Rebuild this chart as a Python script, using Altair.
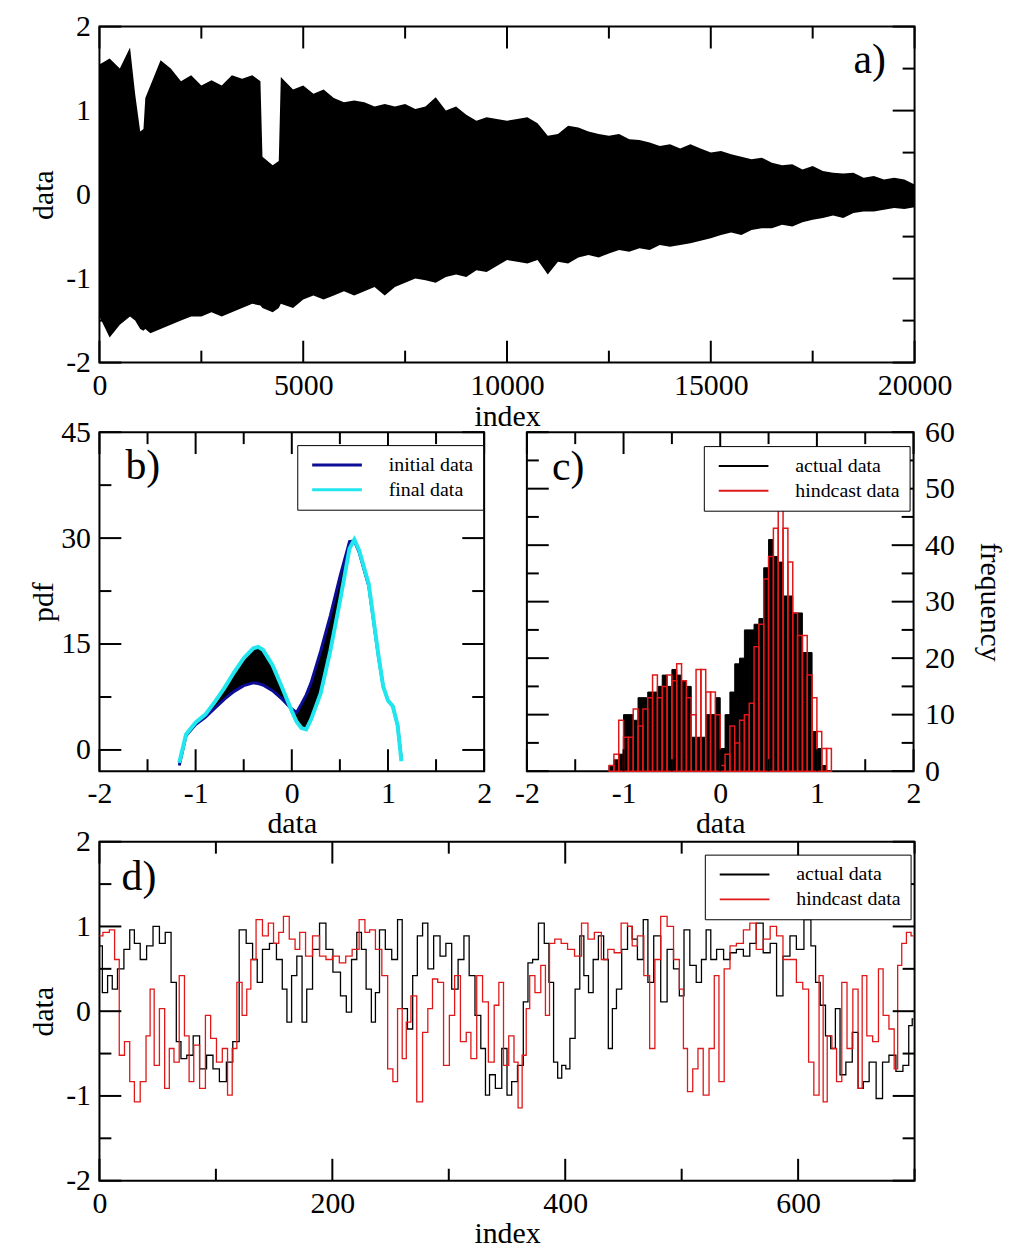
import altair as alt
import pandas as pd

FONT = "Liberation Serif"
BLUE = "#0c0c96"
CYAN = "#22e6ee"
RED = "#e01818"

# ---------------- panel a: envelope of the long series ----------------
a_index = [0, 250, 500, 750, 875, 1000, 1080, 1125, 1250, 1500, 1750, 2000, 2250, 2500, 2750,
           3000, 3250, 3500, 3750, 3950, 4000, 4250, 4400, 4450, 4750, 5000, 5250, 5500, 5750,
           6000, 6250, 6500, 6750, 7000, 7250, 7500, 7750, 8000, 8250, 8500, 8750, 9000, 9250,
           9500, 9750, 10000, 10250, 10500, 10750, 11000, 11250, 11500, 11750, 12000, 12250,
           12500, 12750, 13000, 13250, 13500, 13750, 14000, 14250, 14500, 14750, 15000, 15250,
           15500, 15750, 16000, 16250, 16500, 16750, 17000, 17250, 17500, 17750, 18000, 18250,
           18500, 18750, 19000, 19250, 19500, 19750, 20000]
a_upper = [1.55, 1.62, 1.5, 1.75, 1.2, 0.75, 0.78, 1.15, 1.3, 1.6, 1.5, 1.35, 1.42, 1.3, 1.36,
           1.3, 1.42, 1.38, 1.42, 1.35, 0.45, 0.35, 0.4, 1.4, 1.25, 1.3, 1.2, 1.25, 1.15,
           1.1, 1.12, 1.1, 1.05, 1.08, 1.05, 1.08, 1.02, 1.05, 1.16, 1.0, 1.05, 0.95, 0.88,
           0.92, 0.9, 0.88, 0.9, 0.92, 0.85, 0.7, 0.72, 0.82, 0.8, 0.75, 0.72,
           0.7, 0.72, 0.66, 0.65, 0.62, 0.58, 0.6, 0.55, 0.6, 0.55, 0.5, 0.52,
           0.48, 0.45, 0.42, 0.44, 0.38, 0.35, 0.36, 0.3, 0.34, 0.28, 0.26, 0.25,
           0.26, 0.2, 0.22, 0.18, 0.2, 0.18, 0.12]
a_lower = [-1.45, -1.7, -1.55, -1.45, -1.5, -1.6, -1.62, -1.6, -1.65, -1.6, -1.55, -1.5, -1.45, -1.45, -1.4,
           -1.45, -1.4, -1.35, -1.3, -1.32, -1.35, -1.4, -1.35, -1.3, -1.35, -1.25, -1.2, -1.25, -1.2,
           -1.15, -1.2, -1.15, -1.1, -1.2, -1.1, -1.05, -1.0, -1.02, -1.05, -0.98, -0.95, -0.98, -0.9,
           -0.92, -0.85, -0.78, -0.8, -0.82, -0.78, -0.95, -0.8, -0.82, -0.75, -0.72, -0.75,
           -0.7, -0.66, -0.68, -0.64, -0.66, -0.6, -0.62, -0.6, -0.58, -0.55, -0.52, -0.48,
           -0.45, -0.48, -0.42, -0.4, -0.4, -0.36, -0.38, -0.33, -0.3, -0.28, -0.25, -0.28,
           -0.22, -0.2, -0.2, -0.18, -0.16, -0.17, -0.15]

# ---------------- panel b: pdf curves ----------------
b_x = [-1.17, -1.1, -1.0, -0.9, -0.8, -0.7, -0.6, -0.5, -0.4, -0.35, -0.3, -0.2, -0.1, 0.0, 0.05,
       0.1, 0.15, 0.2, 0.3, 0.4, 0.5, 0.6, 0.65, 0.7, 0.8, 0.9, 0.95, 1.0, 1.05, 1.1, 1.14]
b_final = [-1.8, 2.2, 3.9, 5.0, 6.8, 8.8, 11.0, 13.0, 14.4, 14.6, 14.2, 12.0, 8.8, 5.5, 4.0,
           3.1, 2.9, 4.3, 8.0, 14.0, 21.0, 28.5, 29.8, 28.3, 23.5, 13.5, 9.0, 7.0, 6.2, 3.5, -1.6]
b_initial = [-2.2, 2.0, 3.6, 4.6, 5.9, 7.2, 8.3, 9.1, 9.5, 9.4, 9.2, 8.4, 7.2, 5.8, 5.3,
             6.5, 7.8, 9.5, 14.0, 19.0, 24.5, 29.5, 29.6, 28.0, 23.2, 13.3, 9.0, 7.0, 6.2, 3.5, -1.4]

# ---------------- panel c: histograms ----------------
c_center = [-1.125, -1.075, -1.025, -0.975, -0.925, -0.875, -0.825, -0.775, -0.725, -0.675,
            -0.625, -0.575, -0.525, -0.475, -0.425, -0.375, -0.325, -0.275, -0.225, -0.175,
            -0.125, -0.075, -0.025, 0.025, 0.075, 0.125, 0.175, 0.225, 0.275, 0.325,
            0.375, 0.425, 0.475, 0.525, 0.575, 0.625, 0.675, 0.725, 0.775, 0.825,
            0.875, 0.925, 0.975, 1.025, 1.075, 1.125]
c_actual = [1, 2, 3, 10, 10, 9, 13, 13, 14, 14,
            15, 17, 15, 18, 17, 16, 15, 6, 6, 6,
            10, 10, 13, 4, 10, 14, 19, 20, 25, 25,
            26, 27, 36, 41, 38, 37, 31, 31, 28, 28,
            21, 21, 7, 4, 1, 0]
c_hind = [1, 3, 9, 6, 6, 11, 8, 11, 13, 17,
          13, 15, 17, 16, 19, 16, 13, 10, 18, 18,
          14, 14, 10, 1, 3, 8, 5, 9, 10, 12,
          22, 26, 34, 38, 43, 47, 43, 37, 28, 24,
          24, 17, 13, 7, 4, 4]

# ---------------- panel d: actual vs hindcast ----------------
d_act_idx = [0, 5, 9, 13, 18, 24, 28, 32, 38, 43, 49, 54, 59, 64, 68, 72, 78, 83, 89, 95,
             100, 106, 112, 117, 123, 129, 134, 137, 143, 149, 155, 159, 163, 167, 172, 176, 180, 186, 192, 197,
             204, 210, 214, 219, 223, 227, 231, 236, 238, 243, 248, 254, 258, 262, 267,
             271, 275, 280, 284, 290, 295, 300, 305, 311, 315, 320, 325, 330, 333, 337, 343, 348, 352, 356, 362,
             366, 370, 374, 380, 384, 388, 392, 395, 399, 402, 406, 411, 414, 418, 422, 426, 431, 435, 439, 442,
             446, 451, 456, 459, 465, 469, 473, 479, 485, 490, 496, 500, 504,
             510, 515, 519, 523, 527, 533, 539, 544, 550, 556, 561, 567, 573, 579, 584, 590, 596, 601, 609, 613,
             617, 621, 626, 630, 634, 638, 644, 649, 654, 658, 664, 670, 675, 681, 687, 693, 697, 699]
d_act_val = [0.77, 0.22, 0.42, 0.26, 0.5, 0.73, 0.96, 0.8, 0.61, 0.77, 1.0, 0.8, 0.93, 0.34, -0.36, -0.56, -0.52, -0.29, -0.68, -0.52,
             -0.68, -0.83, -0.6, -0.36, 0.96, 0.8, 0.61, 0.34, 0.73, 0.8, 0.61, 0.26, -0.13, 0.42, 0.65, -0.13, 0.26, 0.73, 1.04, 0.73,
             0.46, 0.18, -0.01, 0.61, 0.93, 0.73, 0.26, -0.13, 0.22, 0.96, 0.73, 0.61, 1.08, 0.03, -0.21,
             0.42, 0.89, 1.04, 0.5, 0.89, 0.65, 0.8, 0.26, 0.61, 0.89, 0.42, -0.05, -0.44, -0.99, -0.75, -0.91, -0.44, -0.99, -0.83, -0.64,
             0.11, 0.57, 0.61, 1.04, 0.8, 0.34, -0.6, -0.79, -0.64, -0.68, -0.32, 0.26, 0.89, 0.42, 0.22, 0.61, 0.89, 0.61, -0.44, 0.03,
             0.26, 0.73, 1.0, 0.85, 0.61, 1.08, 0.34, 0.89, 0.11, 0.73, 0.5, 0.18, 0.96,
             0.54, 0.34, 0.61, 0.96, 0.61, 0.73, 0.61, 0.69, 0.73, 0.65, 0.8, 1.04, 0.69, 0.8, 0.18, 0.65, 0.89, 0.73, 1.08, 0.77,
             0.34, 0.07, -0.29, -0.44, 0.03, -0.75, -0.6, -0.25, -0.91, -0.83, -0.6, -1.03, -0.6, -0.52, -0.71, -0.64, -0.17, -0.09]
d_hind_idx = [0, 6, 11, 15, 19, 24, 28, 32, 38, 42, 45, 49, 54, 58, 62, 66, 71, 75, 79, 83,
              89, 93, 98, 103, 108, 112, 116, 120, 125, 128, 132, 137, 143, 147, 152, 156, 160, 166, 170, 174,
              180, 186, 192, 197, 203, 209, 214, 220, 226, 230,
              234, 240, 245, 250, 254, 258, 262, 265, 270, 275, 280, 284, 288, 293, 298, 303, 307, 313, 317, 321,
              327, 331, 337, 341, 345, 349, 354, 358, 361, 365, 368, 371, 377, 381, 385, 388, 394, 399, 405, 411,
              417, 422, 428, 434, 439, 445, 451, 456,
              459, 465, 470, 475, 479, 485, 490, 496, 500, 503, 507, 512, 516, 521, 526, 530, 534, 539, 544, 550,
              556, 561, 567, 573, 579, 584, 590, 596, 601, 607, 611, 616, 620, 623, 627, 631, 635, 640, 644, 650,
              653, 657, 661, 667, 671, 675, 681, 684, 687, 691, 695, 699]
d_hind_val = [0.89, 0.93, 0.96, 0.61, -0.52, -0.36, -0.83, -1.07, -0.83, -0.29, 0.26, -0.64, 0.03, -0.91, -0.44, -0.6, 0.42, -0.29, -0.83, -0.4,
              -0.91, -0.05, -0.32, -0.6, -0.44, -0.99, -0.44, 0.34, -0.05, 0.26, 0.61, 1.08, 0.89, 1.04, 0.8, 0.93, 1.12, 0.85, 0.73, 0.93,
              0.65, 0.89, 0.65, 0.61, 0.65, 0.57, 0.65, 0.73, 1.08, 0.93,
              0.96, 0.73, 0.42, -0.68, -0.83, 0.03, -0.56, -0.13, 0.18, -1.07, -0.25, 0.03, 0.38, 0.34, -0.64, -0.05, 0.42, -0.36, -0.25, -0.56,
              0.42, 0.11, -0.6, 0.07, 0.34, -0.64, -0.29, -0.6, -1.14, -0.52, 0.03, 0.42, 0.22, 0.54, -0.05, 0.8, 0.85, 0.8, 0.73, 0.65,
              1.04, 0.85, 0.93, 0.61, 0.73, 0.69, 1.04, 1.0,
              0.77, 0.89, 0.42, -0.44, 0.61, 1.12, 1.0, 0.61, 0.26, -0.44, -0.95, -0.68, -0.44, -0.99, -0.44, 0.42, -0.83, 0.5, 0.77, 0.8,
              0.96, 1.04, 0.73, 0.85, 1.0, 0.89, 0.61, 0.61, 0.34, 0.26, -0.6, -0.99, 0.42, -1.07, -0.29, -0.44, -0.83, 0.34, -0.44, 0.26,
              -0.91, 0.42, -0.29, -0.36, 0.5, -0.05, -0.21, -0.68, 0.54, 0.8, 0.93, 0.89]

# tick positions
a_x_major = [0, 5000, 10000, 15000, 20000]
a_x_minor = [2500, 7500, 12500, 17500]
pm2_major = [-2, -1, 0, 1, 2]
pm2_minor = [-1.5, -0.5, 0.5, 1.5]
b_y_major = [0, 15, 30, 45]
b_y_minor = [7.5, 22.5, 37.5]
c_y_major = [0, 10, 20, 30, 40, 50, 60]
c_y_minor = [5, 15, 25, 35, 45, 55]
d_x_major = [0, 200, 400, 600]
d_x_minor = [100, 300, 500, 700]

AXIS = dict(domain=False, ticks=False, grid=False, labelFont=FONT, labelFontSize=30,
            labelColor="black", titleFont=FONT, titleFontSize=30, titleFontWeight="normal",
            titleColor="black", labelExpr="'' + datum.value", labelOverlap=False, labelFlush=False)


def xaxis(values, title, title_y):
    return alt.Axis(values=values, title=title, labelPadding=8, titleY=title_y,
                    titleBaseline="alphabetic", **AXIS)


def yaxis(values, title, orient="left"):
    if orient == "left":
        return alt.Axis(values=values, title=title, orient="left", labelPadding=9, titleX=-47,
                        titleAngle=270, titleBaseline="alphabetic", **AXIS)
    return alt.Axis(values=values, title=title, orient="right", labelPadding=11, titleX=67,
                    titleAngle=90, titleBaseline="alphabetic", **AXIS)


def legend(lx, ly, sw):
    # a 50px line symbol drawn as a custom path (keeps the legend rows compact)
    return alt.Legend(title=None, orient="none", legendX=lx, legendY=ly,
                      symbolType="M-1,0H9", symbolSize=100, symbolStrokeWidth=sw,
                      labelFont=FONT, labelFontSize=20, labelColor="black", labelOffset=62,
                      padding=10, rowPadding=5, strokeColor="black", fillColor="white",
                      labelLimit=300)


def ticks(xs, ys, xmaj, xmin, ymaj, ymin, W, H, L=22, l=12):
    out = []
    for vals, ln in ((xmaj, L), (xmin, l)):
        base = alt.Chart(pd.DataFrame({"t": vals}))
        out.append(base.mark_rule(color="black", strokeWidth=2).encode(
            x=alt.X("t:Q", scale=xs), y=alt.value(H), y2=alt.value(H - ln)))
        out.append(base.mark_rule(color="black", strokeWidth=2).encode(
            x=alt.X("t:Q", scale=xs), y=alt.value(0), y2=alt.value(ln)))
    for vals, ln in ((ymaj, L), (ymin, l)):
        base = alt.Chart(pd.DataFrame({"t": vals}))
        out.append(base.mark_rule(color="black", strokeWidth=2).encode(
            y=alt.Y("t:Q", scale=ys), x=alt.value(0), x2=alt.value(ln)))
        out.append(base.mark_rule(color="black", strokeWidth=2).encode(
            y=alt.Y("t:Q", scale=ys), x=alt.value(W), x2=alt.value(W - ln)))
    return out


def panel_label(xs, ys, x, y, text):
    return alt.Chart(pd.DataFrame({"x": [x], "y": [y], "t": [text]})).mark_text(
        font=FONT, fontSize=42, align="left", baseline="alphabetic", color="black").encode(
        x=alt.X("x:Q", scale=xs), y=alt.Y("y:Q", scale=ys), text="t:N")


# ---------------- build panel a ----------------
A_W, A_H = 820, 338
xa = alt.Scale(domain=[0, 20000], nice=False, zero=False)
ya = alt.Scale(domain=[-2, 2], nice=False, zero=False)
a_df = pd.DataFrame({"index": a_index, "upper": a_upper, "lower": a_lower})
a_main = alt.Chart(a_df).mark_area(color="black", clip=True).encode(
    x=alt.X("index:Q", scale=xa, axis=xaxis(a_x_major, "index", 63)),
    y=alt.Y("upper:Q", scale=ya, axis=yaxis(pm2_major, "data")),
    y2="lower:Q")
a_chart = alt.layer(a_main, *ticks(xa, ya, a_x_major, a_x_minor, pm2_major, pm2_minor, A_W, A_H),
                    panel_label(xa, ya, 18500, 1.45, "a)")).properties(width=A_W, height=A_H)

# ---------------- build panel b ----------------
B_W, B_H = 387, 341
xb = alt.Scale(domain=[-2, 2], nice=False, zero=False)
yb = alt.Scale(domain=[-3, 45], nice=False, zero=False)
b_color = alt.Scale(domain=["initial data", "final data"], range=[BLUE, CYAN])
b_df = pd.DataFrame({"x": b_x, "initial": b_initial, "final": b_final})
b_area = alt.Chart(b_df).mark_area(color="black").encode(
    x=alt.X("x:Q", scale=xb, axis=xaxis(pm2_major, "data", 62)),
    y=alt.Y("initial:Q", scale=yb, axis=yaxis(b_y_major, "pdf")),
    y2="final:Q")
b_init = alt.Chart(pd.DataFrame({"x": b_x, "pdf": b_initial, "series": "initial data"})).mark_line(
    strokeWidth=3).encode(
    x=alt.X("x:Q", scale=xb), y=alt.Y("pdf:Q", scale=yb),
    color=alt.Color("series:N", scale=b_color, legend=legend(199, 13, 3)))
b_fin = alt.Chart(pd.DataFrame({"x": b_x, "pdf": b_final, "series": "final data"})).mark_line(
    strokeWidth=4).encode(
    x=alt.X("x:Q", scale=xb), y=alt.Y("pdf:Q", scale=yb),
    color=alt.Color("series:N", scale=b_color, legend=legend(199, 13, 3)))
# white 1px spacer below the row so that the vertical gaps come out even
b_spacer = alt.Chart(pd.DataFrame({"t": [0]})).mark_rule(color="white", strokeWidth=1).encode(
    x=alt.value(0), x2=alt.value(1), y=alt.value(B_H + 69))
b_chart = alt.layer(b_area, b_init, b_fin,
                    *ticks(xb, yb, pm2_major, pm2_minor, b_y_major, b_y_minor, B_W, B_H),
                    panel_label(xb, yb, -1.73, 38.3, "b)"), b_spacer).properties(width=B_W, height=B_H)

# ---------------- build panel c ----------------
C_W, C_H = 389, 341
xc = alt.Scale(domain=[-2, 2], nice=False, zero=False)
yc = alt.Scale(domain=[0, 60], nice=False, zero=False)
c_stroke = alt.Scale(domain=["actual data", "hindcast data"], range=["black", RED])
c_act_df = pd.DataFrame({"center": c_center, "freq": c_actual, "series": "actual data"})
c_hind_df = pd.DataFrame({"center": c_center, "freq": c_hind, "series": "hindcast data"})
c_black = alt.Chart(c_act_df).transform_calculate(
    left="datum.center - 0.025", right="datum.center + 0.025").mark_rect(
    fill="black", strokeWidth=1).encode(
    x=alt.X("left:Q", scale=xc, axis=xaxis(pm2_major, "data", 62)),
    x2="right:Q",
    y=alt.Y("freq:Q", scale=yc, axis=yaxis(c_y_major, "frequency", orient="right")),
    y2=alt.Y2(datum=0),
    stroke=alt.Stroke("series:N", scale=c_stroke, legend=legend(178, 14, 2)))
c_red = alt.Chart(c_hind_df).transform_calculate(
    left="datum.center - 0.025", right="datum.center + 0.025").mark_rect(
    filled=False, strokeWidth=1.5).encode(
    x=alt.X("left:Q", scale=xc),
    x2="right:Q",
    y=alt.Y("freq:Q", scale=yc),
    y2=alt.Y2(datum=0),
    stroke=alt.Stroke("series:N", scale=c_stroke, legend=legend(178, 14, 2)))
c_chart = alt.layer(c_black, c_red,
                    *ticks(xc, yc, pm2_major, pm2_minor, c_y_major, c_y_minor, C_W, C_H),
                    panel_label(xc, yc, -1.74, 51.6, "c)")).properties(width=C_W, height=C_H)

# ---------------- build panel d ----------------
D_W, D_H = 820, 341
xd = alt.Scale(domain=[0, 700], nice=False, zero=False)
yd = alt.Scale(domain=[-2, 2], nice=False, zero=False)
d_color = alt.Scale(domain=["actual data", "hindcast data"], range=["black", RED])
d_black = alt.Chart(pd.DataFrame({"index": d_act_idx, "value": d_act_val, "series": "actual data"})).mark_line(
    strokeWidth=1.3, interpolate="step").encode(
    x=alt.X("index:Q", scale=xd, axis=xaxis(d_x_major, "index", 62)),
    y=alt.Y("value:Q", scale=yd, axis=yaxis(pm2_major, "data")),
    color=alt.Color("series:N", scale=d_color, legend=legend(609, 13, 2)))
d_red = alt.Chart(pd.DataFrame({"index": d_hind_idx, "value": d_hind_val, "series": "hindcast data"})).mark_line(
    strokeWidth=1.3, interpolate="step").encode(
    x=alt.X("index:Q", scale=xd),
    y=alt.Y("value:Q", scale=yd),
    color=alt.Color("series:N", scale=d_color, legend=legend(609, 13, 2)))
d_chart = alt.layer(d_black, d_red,
                    *ticks(xd, yd, d_x_major, d_x_minor, pm2_major, pm2_minor, D_W, D_H),
                    panel_label(xd, yd, 19, 1.43, "d)")).properties(width=D_W, height=D_H)

row = alt.hconcat(b_chart, c_chart, spacing=43, bounds="flush").resolve_scale(
    color="independent", stroke="independent")
chart = alt.vconcat(a_chart, row, d_chart, spacing=-16).resolve_scale(
    color="independent", stroke="independent").properties(
    padding={"left": 20, "top": -1, "right": 3, "bottom": -5}).configure_view(
    stroke="black", strokeWidth=2)

chart.save("out.html", embed_options={"renderer": "svg", "actions": False})
